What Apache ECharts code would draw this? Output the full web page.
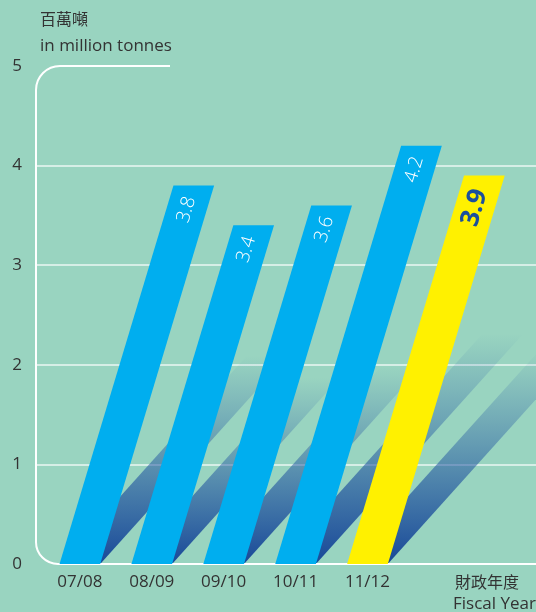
<!DOCTYPE html>
<html>
<head>
<meta charset="utf-8">
<script src="https://cdn.jsdelivr.net/npm/echarts@6/dist/echarts.min.js"></script>
<style>
  html, body { margin: 0; padding: 0; background: #99d4c0; }
  #chart { width: 536px; height: 612px; }
</style>
</head>
<body>
<div id="chart"></div>
<script>
// Annual volume by fiscal year (million tonnes)
const categories = ['07/08', '08/09', '09/10', '10/11', '11/12'];
const values = [3.8, 3.4, 3.6, 4.2, 3.9];
const highlightIndex = 4;          // latest fiscal year drawn in yellow
const yTicks = [0, 1, 2, 3, 4, 5];

const FONT = "'Open Sans', 'Noto Sans CJK TC', sans-serif";
const BG = '#99d4c0';
const BLUE = '#00aeef';
const YELLOW = '#fff100';
const DARK = '#333333';

const BAR_W = 0.566;        // bar width in x-axis units
const SLANT = 0.301;        // horizontal lean per vertical pixel
const SHADOW_SLANT = 0.9;   // lean of the cast shadow
const SHADOW_RATIO = 0.55;  // shadow height relative to the bar value
const X_MIN = -0.61, X_MAX = 6.344;

const chart = echarts.init(document.getElementById('chart'));

function barGeom(api) {
  const i = api.value(0), v = api.value(1);
  const bl = api.coord([i - BAR_W / 2, 0]);
  const br = api.coord([i + BAR_W / 2, 0]);
  return { i, v, bl, br };
}

function renderShadow(params, api) {
  const { v, bl, br } = barGeom(api);
  const topY = api.coord([0, v * SHADOW_RATIO])[1];
  const h = bl[1] - topY;
  const s = h * SHADOW_SLANT;
  return {
    type: 'polygon',
    shape: { points: [bl, br, [br[0] + s, topY], [bl[0] + s, topY]] },
    style: {
      fill: new echarts.graphic.LinearGradient(0, 0, 0, 1, [
        { offset: 0, color: 'rgba(40,92,168,0)' },
        { offset: 1, color: 'rgba(24,72,152,1)' }
      ])
    },
    silent: true
  };
}

function renderBar(params, api) {
  const { i, v, bl, br } = barGeom(api);
  const topY = api.coord([0, v])[1];
  const h = bl[1] - topY;
  const s = h * SLANT;
  const hi = i === highlightIndex;
  const len = Math.hypot(SLANT, 1);
  const cx = (bl[0] + br[0]) / 2 + s;
  const gap = hi ? 15 : 12;
  const ax = cx - (SLANT / len) * gap;
  const ay = topY + (1 / len) * gap;
  return {
    type: 'group',
    children: [
      {
        type: 'polygon',
        shape: { points: [bl, br, [br[0] + s, topY], [bl[0] + s, topY]] },
        style: { fill: hi ? YELLOW : BLUE }
      },
      {
        type: 'text',
        x: ax,
        y: ay,
        rotation: Math.atan2(1, SLANT),
        style: {
          text: v.toFixed(1),
          align: 'right',
          verticalAlign: 'middle',
          fill: hi ? '#1b4f9c' : '#ffffff',
          font: hi ? "bold 26px " + FONT : "300 19px " + FONT
        }
      }
    ]
  };
}

const seriesData = values.map((v, i) => [i, v]);

chart.setOption({
  backgroundColor: BG,
  animation: false,
  grid: { left: 36, right: 0, top: 66, bottom: 48 },
  xAxis: {
    type: 'value',
    min: X_MIN,
    max: X_MAX,
    axisLine: { show: false },
    axisTick: { show: false },
    splitLine: { show: false },
    axisLabel: {
      customValues: categories.map((c, i) => i),
      formatter: v => categories[Math.round(v)] ?? '',
      color: DARK,
      fontFamily: FONT,
      fontSize: 17,
      margin: 10
    }
  },
  yAxis: {
    type: 'value',
    min: yTicks[0],
    max: yTicks[yTicks.length - 1],
    interval: 1,
    axisLine: { show: false },
    axisTick: { show: false },
    axisLabel: {
      color: DARK,
      fontFamily: FONT,
      fontSize: 17,
      align: 'center',
      margin: 19
    },
    splitLine: {
      lineStyle: {
        color: yTicks.map((t, k) => (k === 0 || k === yTicks.length - 1) ? 'rgba(0,0,0,0)' : 'rgba(255,255,255,0.8)'),
        width: 1.5
      }
    }
  },
  series: [
    {
      type: 'custom',
      name: 'shadow',
      z: 1,
      renderItem: renderShadow,
      encode: { x: 0, y: 1 },
      data: seriesData,
      clip: false
    },
    {
      type: 'custom',
      name: 'volume',
      z: 3,
      renderItem: renderBar,
      encode: { x: 0, y: 1 },
      data: seriesData,
      clip: false
    }
  ]
});

// Rounded white frame that ties the value axis to the baseline
const [gx, gBottom] = chart.convertToPixel({ gridIndex: 0 }, [X_MIN, 0]);
const gTop = chart.convertToPixel({ gridIndex: 0 }, [X_MIN, 5])[1];
const W = chart.getWidth();
const rTop = 24, rBot = 22;
const frameStyle = { stroke: '#ffffff', lineWidth: 2, fill: null };

chart.setOption({
  graphic: [
    {
      id: 'frameTop', type: 'line', z: 2, silent: true,
      shape: { x1: gx + rTop, y1: gTop, x2: gx + 134, y2: gTop },
      style: frameStyle
    },
    {
      id: 'frameTopArc', type: 'arc', z: 2, silent: true,
      shape: { cx: gx + rTop, cy: gTop + rTop, r: rTop, startAngle: Math.PI, endAngle: Math.PI * 1.5, clockwise: true },
      style: frameStyle
    },
    {
      id: 'frameLeft', type: 'line', z: 2, silent: true,
      shape: { x1: gx, y1: gTop + rTop, x2: gx, y2: gBottom - rBot },
      style: frameStyle
    },
    {
      id: 'frameBotArc', type: 'arc', z: 2, silent: true,
      shape: { cx: gx + rBot, cy: gBottom - rBot, r: rBot, startAngle: Math.PI / 2, endAngle: Math.PI, clockwise: true },
      style: frameStyle
    },
    {
      id: 'frameBase', type: 'line', z: 2, silent: true,
      shape: { x1: gx + rBot, y1: gBottom, x2: W, y2: gBottom },
      style: frameStyle
    },
    {
      id: 'unitZh', type: 'text', x: 40, y: 20,
      style: { text: '百萬噸', fill: DARK, font: "16px " + FONT, verticalAlign: 'middle' }
    },
    {
      id: 'unitEn', type: 'text', x: 40, y: 46,
      style: { text: 'in million tonnes', fill: DARK, font: "17px " + FONT, verticalAlign: 'middle' }
    },
    {
      id: 'axisZh', type: 'text', x: 455, y: 583,
      style: { text: '財政年度', fill: DARK, font: "16px " + FONT, verticalAlign: 'middle' }
    },
    {
      id: 'axisEn', type: 'text', x: 453, y: 604,
      style: { text: 'Fiscal Year', fill: DARK, font: "17px " + FONT, verticalAlign: 'middle' }
    }
  ]
});
</script>
</body>
</html>
